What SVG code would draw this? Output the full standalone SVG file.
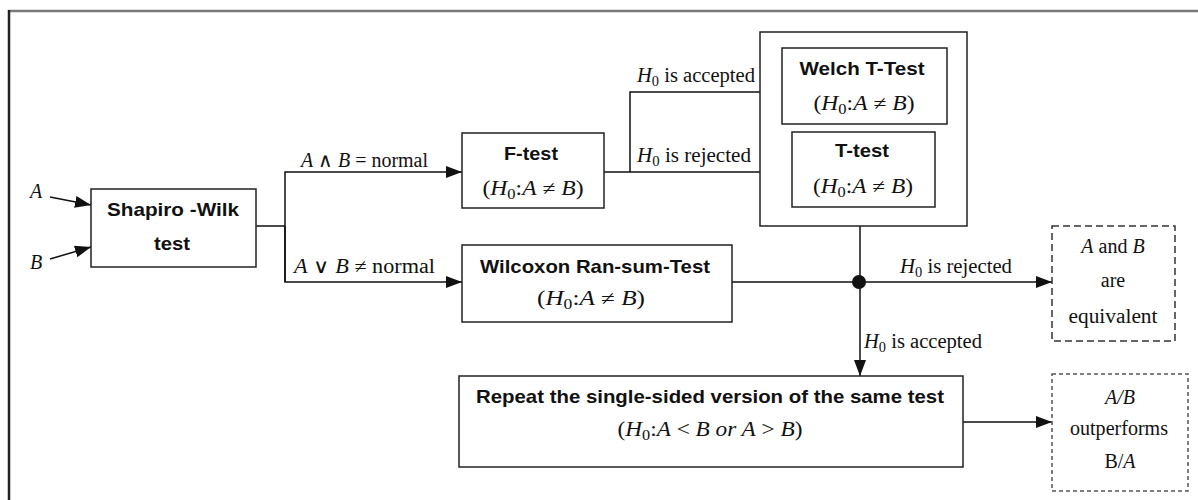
<svg xmlns="http://www.w3.org/2000/svg" width="1198" height="500" viewBox="0 0 1198 500">
<style>
.box{fill:#fff;stroke:#222;stroke-width:1.5}
.d1{fill:#fff;stroke:#333;stroke-width:1.5;stroke-dasharray:7,4}
.d2{fill:#fff;stroke:#555;stroke-width:1.5;stroke-dasharray:4,3}
.ln{fill:none;stroke:#111;stroke-width:1.5}
.b{font-family:"Liberation Sans",Arial,sans-serif;font-weight:bold;font-size:19px;text-anchor:middle;fill:#111}
.m{font-family:"Liberation Serif","Times New Roman",serif;font-size:20px;fill:#111}
.c{text-anchor:middle}
.i{font-style:italic}
.sub{font-size:14px}
</style>
<defs>
<marker id="ah" markerUnits="userSpaceOnUse" markerWidth="17" markerHeight="13" refX="16" refY="6" orient="auto">
<path d="M0,0 L16,6 L0,12 z" fill="#111"/>
</marker>
</defs>
<rect width="1198" height="500" fill="#fff"/>
<g id="frame">
<line x1="8" y1="11" x2="1198" y2="11" stroke="#7a7a7a" stroke-width="2.5"/>
<line x1="9" y1="10" x2="9" y2="500" stroke="#222" stroke-width="2.5"/>
</g>
<g id="connectors">
<line class="ln" x1="50" y1="197" x2="91" y2="205" marker-end="url(#ah)"/>
<line class="ln" x1="50" y1="259" x2="91" y2="247" marker-end="url(#ah)"/>
<polyline class="ln" points="256,226 285,226"/>
<polyline class="ln" points="285,282 285,172 462,172" marker-end="url(#ah)"/>
<polyline class="ln" points="285,226 285,282 462,282" marker-end="url(#ah)"/>
<polyline class="ln" points="604,172 792,172" marker-end="url(#ah)"/>
<polyline class="ln" points="630,172 630,92 782,92" marker-end="url(#ah)"/>
<polyline class="ln" points="860,226 860,376" marker-end="url(#ah)"/>
<polyline class="ln" points="732,282 1052,282" marker-end="url(#ah)"/>
<polyline class="ln" points="963,422 1052,422" marker-end="url(#ah)"/>
<circle cx="859" cy="282" r="7" fill="#111"/>
<text class="m i" x="30" y="198">A</text>
<text class="m i" x="30" y="269">B</text>
<text class="m" x="301" y="167" textLength="127" lengthAdjust="spacingAndGlyphs"><tspan class="i">A</tspan> ∧ <tspan class="i">B</tspan> = normal</text>
<text class="m" x="294" y="273" textLength="141" lengthAdjust="spacingAndGlyphs"><tspan class="i">A</tspan> ∨ <tspan class="i">B</tspan> ≠  normal</text>
<text class="m" x="637" y="82" textLength="118" lengthAdjust="spacingAndGlyphs"><tspan class="i">H</tspan><tspan class="sub" dy="4">0</tspan><tspan dy="-4"> is accepted</tspan></text>
<text class="m" x="637" y="162" textLength="114" lengthAdjust="spacingAndGlyphs"><tspan class="i">H</tspan><tspan class="sub" dy="4">0</tspan><tspan dy="-4"> is rejected</tspan></text>
<text class="m" x="900" y="273" textLength="112" lengthAdjust="spacingAndGlyphs"><tspan class="i">H</tspan><tspan class="sub" dy="4">0</tspan><tspan dy="-4"> is rejected</tspan></text>
<text class="m" x="864" y="348" textLength="118" lengthAdjust="spacingAndGlyphs"><tspan class="i">H</tspan><tspan class="sub" dy="4">0</tspan><tspan dy="-4"> is accepted</tspan></text>
</g>
<g id="shapiro">
<rect class="box" x="91" y="189" width="165" height="78"/>
<text class="b" x="173" y="216" textLength="132" lengthAdjust="spacingAndGlyphs">Shapiro -Wilk</text>
<text class="b" x="172" y="250" textLength="36" lengthAdjust="spacingAndGlyphs">test</text>
</g>
<g id="ftest">
<rect class="box" x="462" y="133" width="142" height="75"/>
<text class="b" x="531" y="160" textLength="54" lengthAdjust="spacingAndGlyphs">F-test</text>
<text class="m c" x="533" y="195" textLength="101" lengthAdjust="spacingAndGlyphs">(<tspan class="i">H</tspan><tspan class="sub" dy="4">0</tspan><tspan dy="-4">:</tspan><tspan class="i">A</tspan> ≠ <tspan class="i">B</tspan>)</text>
</g>
<g id="ttests">
<rect class="box" x="760" y="32" width="207" height="194"/>
</g>
<g id="welch">
<rect class="box" x="782" y="48" width="165" height="76"/>
<text class="b" x="862" y="75" textLength="125" lengthAdjust="spacingAndGlyphs">Welch T-Test</text>
<text class="m c" x="864" y="110" textLength="101" lengthAdjust="spacingAndGlyphs">(<tspan class="i">H</tspan><tspan class="sub" dy="4">0</tspan><tspan dy="-4">:</tspan><tspan class="i">A</tspan> ≠ <tspan class="i">B</tspan>)</text>
</g>
<g id="ttest">
<rect class="box" x="792" y="132" width="143" height="75"/>
<text class="b" x="862" y="157" textLength="54" lengthAdjust="spacingAndGlyphs">T-test</text>
<text class="m c" x="863" y="193" textLength="100" lengthAdjust="spacingAndGlyphs">(<tspan class="i">H</tspan><tspan class="sub" dy="4">0</tspan><tspan dy="-4">:</tspan><tspan class="i">A</tspan> ≠ <tspan class="i">B</tspan>)</text>
</g>
<g id="wilcoxon">
<rect class="box" x="462" y="245" width="270" height="77"/>
<text class="b" x="595" y="273" textLength="230" lengthAdjust="spacingAndGlyphs">Wilcoxon Ran-sum-Test</text>
<text class="m c" x="591" y="305" textLength="108" lengthAdjust="spacingAndGlyphs">(<tspan class="i">H</tspan><tspan class="sub" dy="4">0</tspan><tspan dy="-4">:</tspan><tspan class="i">A</tspan> ≠ <tspan class="i">B</tspan>)</text>
</g>
<g id="repeat">
<rect class="box" x="459" y="376" width="504" height="91"/>
<text class="b" x="710" y="403" textLength="468" lengthAdjust="spacingAndGlyphs">Repeat the single-sided version of the same test</text>
<text class="m c" x="710" y="436" textLength="185" lengthAdjust="spacingAndGlyphs">(<tspan class="i">H</tspan><tspan class="sub" dy="4">0</tspan><tspan dy="-4">:</tspan><tspan class="i">A</tspan> &lt; <tspan class="i">B or A</tspan> &gt; <tspan class="i">B</tspan>)</text>
</g>
<g id="equivalent">
<rect class="d1" x="1052" y="226" width="123" height="115"/>
<text class="m c" x="1113" y="253"><tspan class="i">A</tspan> and <tspan class="i">B</tspan></text>
<text class="m c" x="1113" y="287">are</text>
<text class="m c" x="1113" y="323" textLength="89" lengthAdjust="spacingAndGlyphs">equivalent</text>
</g>
<g id="outperforms">
<rect class="d2" x="1052" y="374" width="136" height="117"/>
<text class="m c i" x="1120" y="404">A/B</text>
<text class="m c" x="1119" y="435" textLength="98" lengthAdjust="spacingAndGlyphs">outperforms</text>
<text class="m c" x="1120" y="468">B/<tspan class="i">A</tspan></text>
</g>
</svg>
